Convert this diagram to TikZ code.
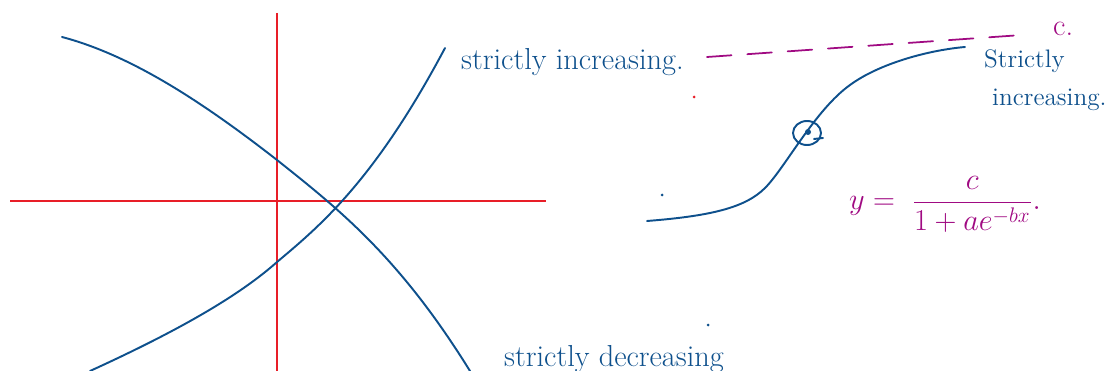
\documentclass[tikz,border=0pt]{standalone}
\usepackage{amsmath}
\usepackage{xcolor}
\usepackage{tikz}
\usetikzlibrary{positioning}
\definecolor{inkblue}{RGB}{14,80,140}
\definecolor{inkred}{RGB}{232,30,40}
\definecolor{inkpink}{RGB}{160,10,130}
\tikzset{every node/.append style={font=\Large},
  pen/.style={inkblue, line width=1.1pt, line cap=round, line join=round},
  axis/.style={inkred, line width=0.9pt}}

\begin{document}
\begin{tikzpicture}[x=0.02cm, y=-0.02cm]
    \useasboundingbox (0,0) rectangle (1105,371);
    \draw[axis] (10,201) -- (546,201);
    \draw[axis] (277,13) -- (277,371);
    \draw[pen] (62,37) .. controls (130,55) and (200,100) .. (277,160)
        .. controls (340,210) and (400,258) .. (470,371);
    \draw[pen] (90,371) .. controls (180,330) and (240,295) .. (277,262)
        .. controls (320,226) and (375,180) .. (445,48);
    \draw[pen] (647,221) .. controls (710,216) and (745,208) .. (765,188)
        .. controls (785,168) and (815,110) .. (850,85)
        .. controls (880,63) and (930,50) .. (965,47);
    \draw[pen] (807,133) ellipse (14 and 12);
    \draw[pen] (814,139) -- (823,138);
    \fill[inkblue] (808,132) circle (3);
    \draw[inkpink, line width=1pt, line cap=round, dash pattern=on 14pt off 9pt] (707,57) -- (1022,35);
    \node[inkpink, anchor=base west, font=\LARGE] (c) at (1047,36) {c.};
    \node[inkblue, anchor=base west, font=\LARGE] (inc) at (455,70) {strictly increasing.};
    \node[inkblue, anchor=base west] (sinc) at (978,68) {Strictly};
    \node[inkblue, anchor=base west] (sinc2) at (986,106) {increasing.};
    \node[inkblue, anchor=base west, font=\LARGE] (dec) at (498,366) {strictly decreasing};
    \node[inkpink, anchor=base west, font=\LARGE] (eq) at (843,210) {$y = \;\dfrac{c}{1+ae^{-bx}}.$};
    \fill[inkred] (694,97) circle (1.5);
    \foreach \p in {(662,195), (708,325)}
        \fill[inkblue] \p circle (1.5);
\end{tikzpicture}
\end{document}
